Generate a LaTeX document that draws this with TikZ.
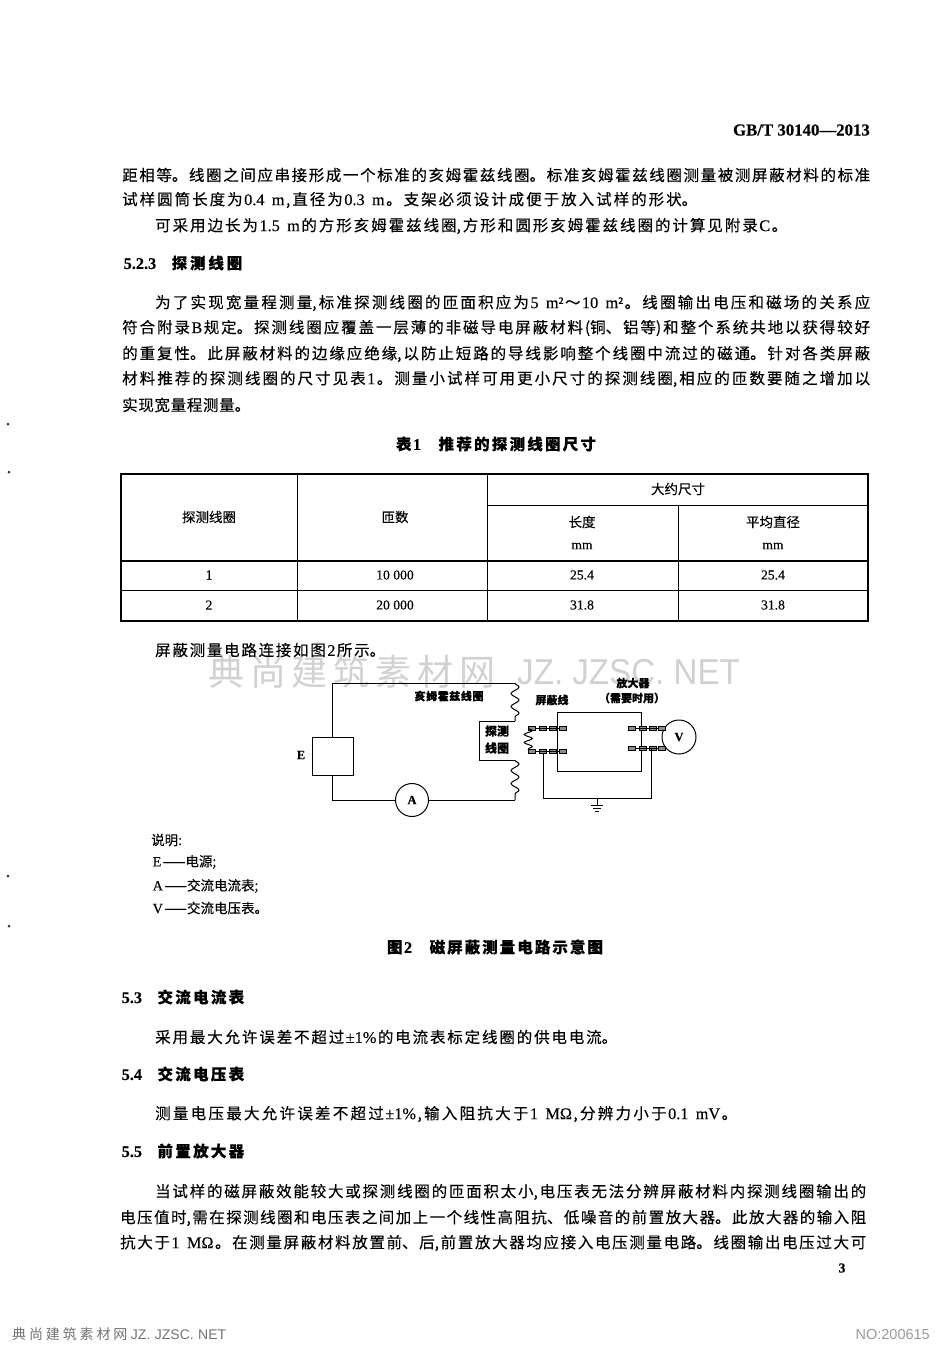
\documentclass[tikz,border=0pt]{standalone}
\usepackage{fontspec}
\setmainfont{Noto Sans CJK SC}[FakeBold=0.25]
\newfontfamily\latfont{Liberation Serif}[FakeBold=0.25, Scale=1.05]
\newfontfamily\cleanfont{Noto Sans CJK SC}
\newfontfamily\wmfont{Liberation Sans}
\usetikzlibrary{arrows.meta, positioning, calc, decorations.pathmorphing}
\XeTeXlinebreaklocale "zh"
\XeTeXlinebreakskip=0pt plus 10pt
\newcommand\ltn[1]{\hspace{1.5pt}{\latfont\spaceskip=.45em #1}\hspace{1.5pt}}
\newcommand\fitline[2]{\parbox{#1pt}{\hbadness=10000 \parfillskip=0pt #2}}
\tikzset{
    bodyline/.style={anchor=west, inner sep=0pt, font=\fontsize{15.5}{16}\selectfont},
    headline/.style={anchor=west, inner sep=0pt, font=\fontsize{15.5}{16}\selectfont\bfseries},
    capline/.style={inner sep=0pt, font=\fontsize{15.5}{16}\selectfont\bfseries},
    celltext/.style={inner sep=0pt, font=\fontsize{13.5}{14}\selectfont},
    smalltext/.style={inner sep=0pt, font=\fontsize{11}{11}\selectfont\bfseries},
    wmark/.style={inner sep=0pt, text=black!18},
    wire/.style={line width=1pt},
    coilwire/.style={line width=1pt, decorate, decoration={snake, segment length=13pt, amplitude=4pt}},
    meter/.style={circle, draw, line width=1pt, minimum size=33pt, inner sep=0pt, fill=white, font=\latfont\fontsize{12}{12}\selectfont\bfseries},
    pin/.style={rectangle, draw, fill=black!45, minimum width=7pt, minimum height=4pt, inner sep=0pt, line width=.5pt},
    speck/.style={circle, fill=black!80, inner sep=0pt, minimum size=3pt},
}
\begin{document}
\begin{tikzpicture}[x=1pt, y=-1pt]
    \useasboundingbox (0,0) rectangle (950,1350);

    % Watermarks
    \node[wmark, anchor=west, font=\cleanfont\fontsize{36}{36}\selectfont] (wmzh) at (208,672) {\fitline{287}{典尚建筑素材网}};
    \node[wmark, anchor=west, font=\wmfont\fontsize{36}{36}\selectfont] (wmen) at (517,672) {\scalebox{0.92}[1]{JZ. JZSC. NET}};
    \node[wmark, text=black!55, anchor=west, font=\cleanfont\fontsize{14}{14}\selectfont] (wmfoot) at (12,1334) {\fitline{214}{典尚建筑素材网 {\wmfont JZ. JZSC. NET}}};
    \node[wmark, text=black!40, anchor=east, font=\wmfont\fontsize{14.5}{14.5}\selectfont] (wmno) at (930,1334) {NO:200615};

    % Scan specks in the margin
    \foreach \sx/\sy [count=\i] in {8/424, 9/472, 8/876, 9/926} {
        \node[speck] (speck\i) at (\sx,\sy) {};
    }

    % Page head and first paragraphs
    \node[anchor=east, inner sep=0pt, font=\latfont\fontsize{16}{16}\selectfont\bfseries] (pagehead) at (870,130) {GB/T 30140—2013};
    \node[bodyline] (a1) at (122,175) {\fitline{748}{距相等。线圈之间应串接形成一个标准的亥姆霍兹线圈。标准亥姆霍兹线圈测量被测屏蔽材料的标准}};
    \node[bodyline] (a2) at (122,200) {\fitline{575}{试样圆筒长度为\ltn{0.4 m},直径为\ltn{0.3 m}。支架必须设计成便于放入试样的形状。}};
    \node[bodyline] (a3) at (155,226) {\fitline{632}{可采用边长为\ltn{1.5 m}的方形亥姆霍兹线圈,方形和圆形亥姆霍兹线圈的计算见附录\ltn{C}。}};

    \node[headline] (h1) at (122,263) {\fitline{120}{\ltn{5.2.3}\hspace{14pt}探测线圈}};
    \node[bodyline] (b1) at (155,303) {\fitline{715}{为了实现宽量程测量,标准探测线圈的匝面积应为\ltn{5 m²}～\ltn{10 m²}。线圈输出电压和磁场的关系应}};
    \node[bodyline] (b2) at (122,328) {\fitline{748}{符合附录\ltn{B}规定。探测线圈应覆盖一层薄的非磁导电屏蔽材料(铜、铝等)和整个系统共地以获得较好}};
    \node[bodyline] (b3) at (122,354) {\fitline{748}{的重复性。此屏蔽材料的边缘应绝缘,以防止短路的导线影响整个线圈中流过的磁通。针对各类屏蔽}};
    \node[bodyline] (b4) at (122,379) {\fitline{748}{材料推荐的探测线圈的尺寸见表\ltn{1}。测量小试样可用更小尺寸的探测线圈,相应的匝数要随之增加以}};
    \node[bodyline] (b5) at (122,405) {\fitline{128}{实现宽量程测量。}};

    % Table 1
    \node[capline] (tabcap) at (496,444) {\fitline{200}{表\ltn{1}\hspace{16pt}推荐的探测线圈尺寸}};
    \draw[line width=1.2pt] (121,474) rectangle (868,621);
    \draw[line width=.8pt] (297,474) -- (297,621);
    \draw[line width=.8pt] (487,474) -- (487,621);
    \draw[line width=.8pt] (678,505) -- (678,621);
    \draw[line width=.8pt] (487,505) -- (868,505);
    \draw[line width=1.1pt] (121,561) -- (868,561);
    \draw[line width=.8pt] (121,590) -- (868,590);
    \node[celltext] (c1) at (209,517) {探测线圈};
    \node[celltext] (c2) at (395,517) {匝数};
    \node[celltext] (c3) at (678,489) {大约尺寸};
    \node[celltext] (c4) at (582,522) {长度};
    \node[celltext] (c5) at (773,522) {平均直径};
    \foreach \cx/\cy/\ct [count=\i] in {582/546/mm, 773/546/mm, 209/575/1, 395/575/10 000, 582/575/25.4, 773/575/25.4, 209/605/2, 395/605/20 000, 582/605/31.8, 773/605/31.8} {
        \node[celltext, font=\latfont\fontsize{13}{13}\selectfont] (d\i) at (\cx,\cy) {\ct};
    }

    \node[bodyline] (e1) at (155,650) {\fitline{230}{屏蔽测量电路连接如图\ltn{2}所示。}};

    % Helmholtz coil circuit
    \node[draw, wire, minimum width=41pt, minimum height=38pt, inner sep=0pt] (src) at (332.5,756) {};
    \node[meter] (ammeter) at (412,800) {A};
    \coordinate (tl) at (332,683);
    \coordinate (tr) at (515,683);
    \coordinate (br) at (515,800);
    \coordinate (bl) at (332,800);
    \coordinate (cu) at (515,721);
    \coordinate (cd) at (515,760);
    \coordinate (pu) at (479,721);
    \coordinate (pd) at (479,760);
    \draw[wire] (src.north -| tl) -- (tl) -- (tr);
    \draw[wire] (src.south -| bl) -- (bl) -- (ammeter.west);
    \draw[wire] (ammeter.east) -- (br);
    \draw[coilwire] (tr) -- (cu);
    \draw[coilwire] (cd) -- (br);
    \draw[wire] (cu) -- (pu) -- (pd) -- (cd);

    % Amplifier and shielded leads
    \node[draw, wire, minimum width=84pt, minimum height=59pt, inner sep=0pt, anchor=north west] (amp) at (557,712) {};
    \node[meter, minimum size=34pt] (vmeter) at (679,737) {V};
    \foreach \px [count=\i] in {532,543,553,563} {
        \node[pin] (lu\i) at (\px,728) {};
        \node[pin] (ld\i) at (\px,751) {};
    }
    \foreach \px [count=\i] in {632,643,653,662} {
        \node[pin] (ru\i) at (\px,728) {};
        \node[pin] (rd\i) at (\px,748) {};
    }
    \draw[wire] (lu1) -- (lu4);
    \draw[wire] (ld1) -- (ld4);
    \draw[wire] (ru1) -- (ru4);
    \draw[wire] (rd1) -- (rd4);
    \draw[line width=1pt, decorate, decoration={snake, segment length=8pt, amplitude=4pt}] (lu1.west) -- (ld1.west);

    % Earth
    \coordinate (sl) at (543,798);
    \coordinate (sr) at (651,798);
    \coordinate (gnd) at (597,805);
    \draw[wire] (ld2) -- (sl) -- (sr) -- (sr |- rd3);
    \draw[wire] (gnd |- sl) -- (gnd);
    \draw[wire] ($(gnd)+(-6,0)$) -- ($(gnd)+(6,0)$);
    \draw[wire] ($(gnd)+(-4,3)$) -- ($(gnd)+(4,3)$);
    \draw[wire] ($(gnd)+(-2,6)$) -- ($(gnd)+(2,6)$);

    % Circuit labels
    \node[smalltext] (t1) at (449,696) {\fitline{69}{亥姆霍兹线圈}};
    \node[smalltext] (t2) at (552,700) {屏蔽线};
    \node[smalltext] (t3) at (633,683) {放大器};
    \node[smalltext] (t4) at (632,698) {（需要时用）};
    \node[smalltext, font=\fontsize{12}{12}\selectfont\bfseries] (t5) at (497,731) {探测};
    \node[smalltext, font=\fontsize{12}{12}\selectfont\bfseries] (t6) at (497,748) {线圈};
    \node[smalltext, font=\latfont\fontsize{12}{12}\selectfont\bfseries] (t7) at (301,755) {E};

    % Legend
    \node[celltext, anchor=west] (k1) at (151,840) {说明:};
    \node[celltext, anchor=west] (k2) at (151,862) {\ltn{E}——电源;};
    \node[celltext, anchor=west] (k3) at (151,886) {\ltn{A}——交流电流表;};
    \node[celltext, anchor=west] (k4) at (151,908) {\ltn{V}——交流电压表。};
    \node[capline] (figcap) at (495,947) {\fitline{216}{图\ltn{2}\hspace{16pt}磁屏蔽测量电路示意图}};

    % Sections 5.3 to 5.5
    \node[headline] (h2) at (120,997) {\fitline{124}{\ltn{5.3}\hspace{14pt}交流电流表}};
    \node[bodyline] (f1) at (155,1037) {\fitline{462}{采用最大允许误差不超过\ltn{±1\%}的电流表标定线圈的供电电流。}};
    \node[headline] (h3) at (120,1074) {\fitline{124}{\ltn{5.4}\hspace{14pt}交流电压表}};
    \node[bodyline] (f2) at (155,1114) {\fitline{582}{测量电压最大允许误差不超过\ltn{±1\%},输入阻抗大于\ltn{1 MΩ},分辨力小于\ltn{0.1 mV}。}};
    \node[headline] (h4) at (120,1151) {\fitline{124}{\ltn{5.5}\hspace{14pt}前置放大器}};
    \node[bodyline] (g1) at (155,1192) {\fitline{711}{当试样的磁屏蔽效能较大或探测线圈的匝面积太小,电压表无法分辨屏蔽材料内探测线圈输出的}};
    \node[bodyline] (g2) at (120,1218) {\fitline{746}{电压值时,需在探测线圈和电压表之间加上一个线性高阻抗、低噪音的前置放大器。此放大器的输入阻}};
    \node[bodyline] (g3) at (120,1243) {\fitline{746}{抗大于\ltn{1 MΩ}。在测量屏蔽材料放置前、后,前置放大器均应接入电压测量电路。线圈输出电压过大可}};
    \node[celltext, font=\latfont\fontsize{13}{13}\selectfont\bfseries] (pageno) at (842,1268) {3};
\end{tikzpicture}
\end{document}
